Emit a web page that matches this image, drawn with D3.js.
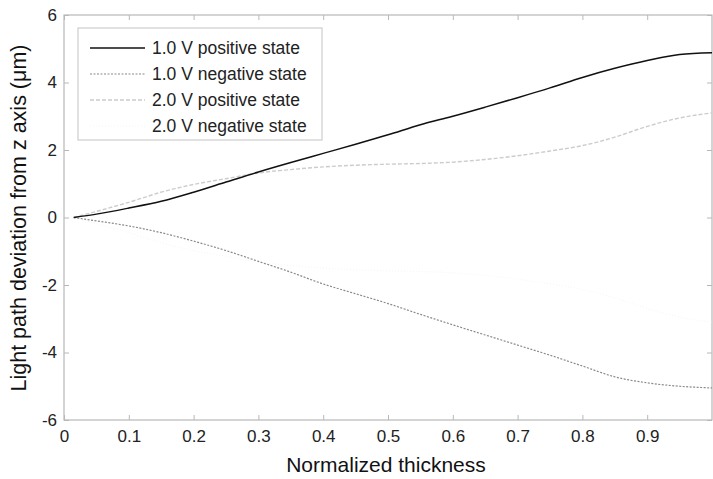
<!DOCTYPE html>
<html><head><meta charset="utf-8">
<script src="https://cdn.jsdelivr.net/npm/d3@7"></script>
<style>body{margin:0;background:#fff;} svg{display:block;font-family:"Liberation Sans",Arial,sans-serif;}</style>
</head><body>
<svg id="c" width="713" height="479"></svg>
<script>
const thickness = [0.015,0.05,0.1,0.15,0.2,0.25,0.3,0.35,0.4,0.45,0.5,0.55,0.6,0.65,0.7,0.75,0.8,0.85,0.9,0.95,1.0];
const pos1V = [0,0.1,0.28,0.48,0.75,1.05,1.35,1.63,1.9,2.17,2.45,2.75,3.0,3.27,3.55,3.84,4.15,4.42,4.65,4.83,4.88];
const neg1V = [0,-0.1,-0.25,-0.45,-0.7,-0.98,-1.3,-1.62,-1.97,-2.26,-2.55,-2.87,-3.18,-3.48,-3.78,-4.08,-4.4,-4.72,-4.9,-5.0,-5.05];
const pos2V = [0,0.18,0.45,0.75,0.98,1.15,1.32,1.42,1.5,1.55,1.58,1.6,1.64,1.72,1.83,1.97,2.13,2.38,2.7,2.95,3.1];
const neg2V = [0,-0.18,-0.45,-0.75,-0.98,-1.15,-1.32,-1.42,-1.5,-1.55,-1.58,-1.6,-1.64,-1.72,-1.83,-1.97,-2.13,-2.38,-2.7,-2.95,-3.1];
const seriesNames = ["1.0 V positive state","1.0 V negative state","2.0 V positive state","2.0 V negative state"];
const xTicks = [0,0.1,0.2,0.3,0.4,0.5,0.6,0.7,0.8,0.9];
const yTicks = [-6,-4,-2,0,2,4,6];

const series = [
  {name: seriesNames[0], values: pos1V, color:"#111", width:1.5, dash:null},
  {name: seriesNames[1], values: neg1V, color:"#8a8a8a", width:1.2, dash:"2,1.5"},
  {name: seriesNames[2], values: pos2V, color:"#cccccc", width:1.4, dash:"4,2"},
  {name: seriesNames[3], values: neg2V, color:"#f6f6f6", width:1.2, dash:"1,2"}
];

const svg = d3.select("#c");
const L = 64, R = 712, T = 15, B = 420;
const x = d3.scaleLinear().domain([0,1]).range([L,R]);
const y = d3.scaleLinear().domain([-6,6]).range([B,T]);

const frameColor = "#b8b8b8";
svg.append("rect").attr("x",L).attr("y",T).attr("width",R-L).attr("height",B-T)
  .attr("fill","none").attr("stroke",frameColor).attr("stroke-width",1.2);

const xAxis = svg.append("g").attr("transform",`translate(0,${B})`)
  .call(d3.axisBottom(x).tickValues(xTicks).tickSize(-5).tickPadding(10).tickFormat(d=>d===0?"0":d3.format(".1f")(d)));
const yAxis = svg.append("g").attr("transform",`translate(${L},0)`)
  .call(d3.axisLeft(y).tickValues(yTicks).tickSize(-5).tickPadding(7).tickFormat(d=>String(d)));
[xAxis,yAxis].forEach(g=>{
  g.select(".domain").remove();
  g.selectAll(".tick line").attr("stroke",frameColor);
  g.selectAll(".tick text").attr("fill","#222").style("font-size","17px").style("font-family","'Liberation Sans',Arial,sans-serif");
});
svg.append("g").attr("transform",`translate(0,${T})`)
  .call(d3.axisTop(x).tickValues(xTicks).tickSize(-5).tickFormat(""))
  .call(g=>{g.select(".domain").remove();g.selectAll(".tick line").attr("stroke",frameColor);});
svg.append("g").attr("transform",`translate(${R},0)`)
  .call(d3.axisRight(y).tickValues(yTicks).tickSize(-5).tickFormat(""))
  .call(g=>{g.select(".domain").remove();g.selectAll(".tick line").attr("stroke",frameColor);});

const line = d3.line().x((d,i)=>x(thickness[i])).y(d=>y(d)).curve(d3.curveMonotoneX);
series.slice().reverse().forEach(s=>{
  svg.append("path").datum(s.values).attr("d",line)
    .attr("fill","none").attr("stroke",s.color).attr("stroke-width",s.width)
    .attr("stroke-dasharray",s.dash);
});

const lg = svg.append("g");
lg.append("rect").attr("x",78).attr("y",28).attr("width",244).attr("height",112)
  .attr("fill","#fff").attr("stroke","#c4c4c4").attr("stroke-width",1);
series.forEach((s,i)=>{
  const yy = 48 + i*26;
  lg.append("line").attr("x1",90).attr("x2",145).attr("y1",yy).attr("y2",yy)
    .attr("stroke",s.color).attr("stroke-width",s.width).attr("stroke-dasharray",s.dash);
  lg.append("text").attr("x",152).attr("y",yy).attr("dy","0.35em")
    .attr("fill","#222").style("font-size","17.5px").text(s.name);
});

svg.append("text").attr("x",386).attr("y",472).attr("text-anchor","middle")
  .attr("fill","#111").style("font-size","21px").text("Normalized thickness");
svg.append("text").attr("transform","translate(26,218) rotate(-90)").attr("text-anchor","middle")
  .attr("fill","#111").style("font-size","21.5px").text("Light path deviation from z axis (μm)");
</script>
</body></html>
